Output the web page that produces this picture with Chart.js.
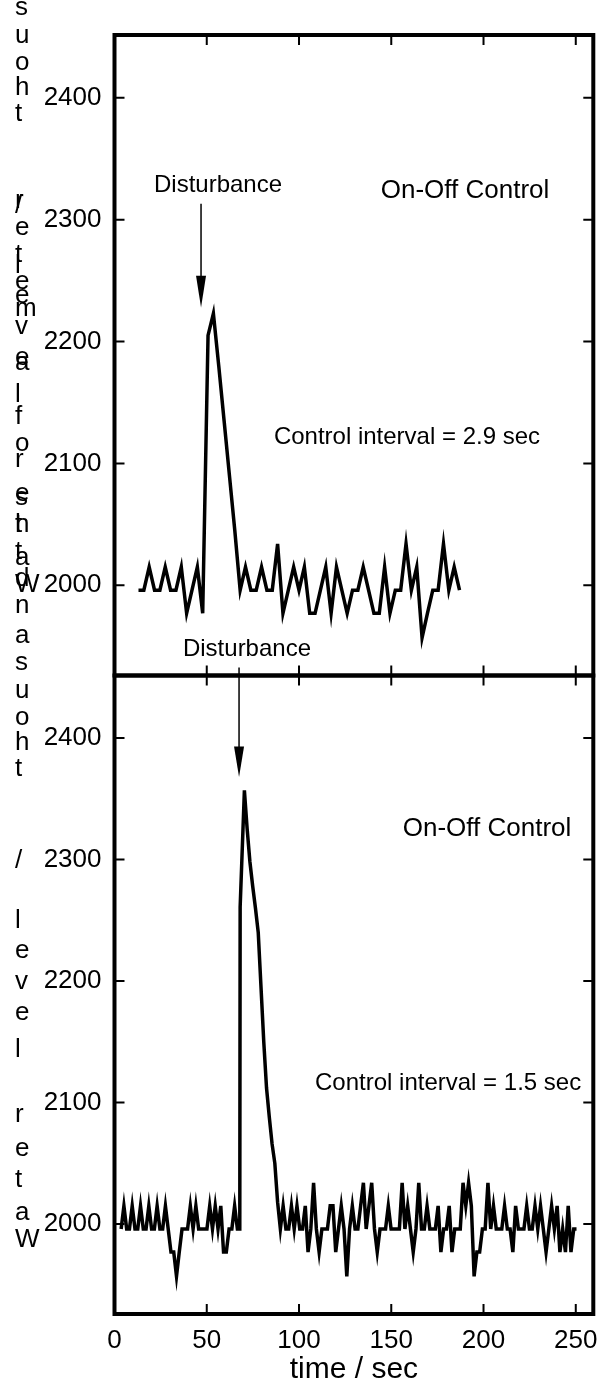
<!DOCTYPE html>
<html>
<head>
<meta charset="utf-8">
<script src="https://cdn.jsdelivr.net/npm/chart.js@4.4.1/dist/chart.umd.min.js"></script>
<style>
  html, body { margin: 0; padding: 0; background: #ffffff; }
  #wrap { position: relative; width: 597px; height: 1389px; overflow: hidden; background: #ffffff; }
  canvas { position: absolute; left: 0; top: 0; }
</style>
</head>
<body>
<div id="wrap">
  <canvas id="c1" width="597" height="680" style="width:597px;height:680px"></canvas>
  <canvas id="c2" width="597" height="1389" style="width:597px;height:1389px"></canvas>
</div>
<script>
// ---------------- data ----------------
const xTicks = [0, 50, 100, 150, 200, 250];
const yTicks = [2000, 2100, 2200, 2300, 2400];

// Upper panel: control interval 2.9 s
const topTime = [13.0, 15.9, 18.8, 21.7, 24.6, 27.5, 30.4, 33.3, 36.2, 39.1,
  42.0, 44.9, 47.8, 50.7, 53.6, 56.5, 59.4, 62.3, 65.2, 68.1,
  71.0, 73.9, 76.8, 79.7, 82.6, 85.5, 88.4, 91.3, 94.2, 97.1,
  100.0, 102.9, 105.8, 108.7, 111.6, 114.5, 117.4, 120.3, 123.2, 126.1,
  129.0, 131.9, 134.8, 137.7, 140.6, 143.5, 146.4, 149.3, 152.2, 155.1,
  158.0, 160.9, 163.8, 166.7, 169.6, 172.5, 175.4, 178.3, 181.2, 184.1, 187.0];
const topLevel = [1996, 1996, 2015, 1996, 1996, 2015, 1996, 1996, 2015, 1977,
  1996, 2015, 1977, 2205, 2223, 2180, 2135, 2090, 2045, 1996,
  2015, 1996, 1996, 2015, 1996, 1996, 2034, 1977, 1996, 2015,
  1996, 2015, 1977, 1977, 1996, 2015, 1977, 2015, 1996, 1977,
  1996, 1996, 2015, 1996, 1977, 1977, 2015, 1977, 1996, 1996,
  2034, 1996, 2015, 1957, 1977, 1996, 1996, 2034, 1996, 2015, 1996];

// Lower panel: control interval 1.5 s
const bottomTime = [3.6, 5.1, 6.6, 8.1, 9.6, 11.1, 12.6, 14.1, 15.6, 17.1,
  18.6, 20.1, 21.6, 23.1, 24.6, 26.1, 27.6, 29.1, 30.6, 32.1,
  33.6, 35.1, 36.6, 38.1, 39.6, 41.1, 42.6, 44.1, 45.6, 47.1,
  48.6, 50.1, 51.6, 53.1, 54.6, 56.1, 57.6, 59.1, 60.6, 62.1,
  63.6, 65.1, 66.6, 67.9, 68.1, 70.4,
  71.9, 73.4, 74.9, 76.4, 77.9, 79.4, 80.9, 82.4, 83.9, 85.4, 86.9, 88.4,
  89.9, 91.4, 92.9, 94.4, 95.9, 97.4, 98.9, 100.4, 101.9, 103.4,
  104.9, 106.4, 107.9, 109.4, 110.9, 112.4, 113.9, 115.4, 116.9, 118.4,
  119.9, 121.4, 122.9, 124.4, 125.9, 127.4, 128.9, 130.4, 131.9, 133.4,
  134.9, 136.4, 137.9, 139.4, 140.9, 142.4, 143.9, 145.4, 146.9, 148.4,
  149.9, 151.4, 152.9, 154.4, 155.9, 157.4, 158.9, 160.4, 161.9, 163.4,
  164.9, 166.4, 167.9, 169.4, 170.9, 172.4, 173.9, 175.4, 176.9, 178.4,
  179.9, 181.4, 182.9, 184.4, 185.9, 187.4, 188.9, 190.4, 191.9, 193.4,
  194.9, 196.4, 197.9, 199.4, 200.9, 202.4, 203.9, 205.4, 206.9, 208.4,
  209.9, 211.4, 212.9, 214.4, 215.9, 217.4, 218.9, 220.4, 221.9, 223.4,
  224.9, 226.4, 227.9, 229.4, 230.9, 232.4, 233.9, 235.4, 236.9, 238.4,
  239.9, 241.4, 242.9, 244.4, 245.9, 247.4, 248.9, 250.4];
const bottomLevel = [1996, 2015, 1996, 1996, 2015, 1996, 1996, 2015, 1996, 1996,
  2015, 1996, 1996, 2015, 1996, 1996, 2015, 1996, 1977, 1977,
  1957, 1977, 1996, 1996, 1996, 2015, 1996, 2015, 1996, 1996,
  1996, 1996, 2015, 1996, 2015, 1996, 2015, 1977, 1977, 1996,
  1996, 2015, 1996, 1996, 2261, 2357,
  2325, 2298, 2278, 2260, 2240, 2195, 2150, 2112, 2088, 2066, 2050, 2018,
  1996, 2015, 1996, 1996, 2015, 1996, 2015, 1996, 1996, 2015,
  1977, 1996, 2034, 1996, 1977, 1996, 1996, 1996, 2015, 2015,
  1977, 1996, 2015, 1996, 1957, 1996, 2015, 1996, 1996, 2015,
  2034, 1996, 2015, 2034, 1996, 1977, 1996, 1996, 1996, 2015,
  1996, 1996, 1996, 1996, 2034, 1996, 2015, 1996, 1977, 1996,
  2034, 1996, 1996, 2015, 1996, 1996, 1996, 2015, 1977, 1996,
  1996, 2015, 1977, 1996, 1996, 1996, 2034, 2015, 2034, 2015,
  1957, 1977, 1977, 1996, 1996, 2034, 1996, 2015, 1996, 1996,
  1996, 2015, 1996, 1996, 1977, 2015, 1996, 1996, 1996, 2015,
  1996, 1996, 2015, 1996, 2015, 1996, 1977, 1996, 2015, 1996,
  2015, 1977, 1996, 1977, 2015, 1977, 1996, 1996];

// ---------------- styling / layout ----------------
const FONT = "'Liberation Sans', Arial, Helvetica, sans-serif";
const X_MIN = 0, X_MAX = 259.5, Y_MIN = 1926, Y_MAX = 2451.5;
Chart.defaults.font.family = FONT;
Chart.defaults.color = '#000';

const yTitle = 'Water level / thousandths of a meter';
const yTitleStep = [0, 27, 60, 91, 125, 157, 190, 227, 258, 289, 319, 349, 379, 425,
  471, 497, 522, 549, 577, 604, 634, 661, 688, 715, 742, 769, 796, 823, 850, 877,
  904, 931, 958, 985, 1012, 1039];

function decor(notes) {
  return {
    id: 'decor',
    afterDatasetsDraw(chart) {
      const { ctx, chartArea: a, scales: { x, y } } = chart;
      ctx.save();
      ctx.strokeStyle = '#000';
      ctx.fillStyle = '#000';
      // inward tick marks on all four sides
      const L = 10;
      ctx.lineWidth = 2;
      ctx.beginPath();
      xTicks.forEach(v => {
        const px = x.getPixelForValue(v);
        ctx.moveTo(px, a.bottom); ctx.lineTo(px, a.bottom - L);
        ctx.moveTo(px, a.top); ctx.lineTo(px, a.top + L);
      });
      yTicks.forEach(v => {
        const py = y.getPixelForValue(v);
        ctx.moveTo(a.left, py); ctx.lineTo(a.left + L, py);
        ctx.moveTo(a.right, py); ctx.lineTo(a.right - L, py);
      });
      ctx.stroke();
      // frame
      ctx.lineWidth = 4;
      ctx.strokeRect(a.left, a.top, a.right - a.left, a.bottom - a.top);
      // arrow
      const ar = notes.arrow;
      const ax = x.getPixelForValue(ar.x);
      const y0 = y.getPixelForValue(ar.from);
      const yh = y.getPixelForValue(ar.head);
      const yt = y.getPixelForValue(ar.to);
      ctx.lineWidth = 1.5;
      ctx.beginPath(); ctx.moveTo(ax, y0); ctx.lineTo(ax, yh + 2); ctx.stroke();
      ctx.beginPath();
      ctx.moveTo(ax - 5, yh); ctx.lineTo(ax + 5, yh); ctx.lineTo(ax, yt); ctx.closePath();
      ctx.fill();
      // texts
      ctx.textAlign = 'center';
      ctx.textBaseline = 'middle';
      notes.texts.forEach(t => {
        ctx.font = t.size + 'px ' + FONT;
        ctx.fillText(t.text, x.getPixelForValue(t.x), y.getPixelForValue(t.y));
      });
      // stacked y titles
      if (notes.yTitleBases) {
        ctx.font = '26px ' + FONT;
        ctx.textAlign = 'left';
        ctx.textBaseline = 'alphabetic';
        notes.yTitleBases.forEach(base => {
          for (let i = 0; i < yTitle.length; i++) {
            const ch = yTitle[i];
            if (ch !== ' ') ctx.fillText(ch, 15, base - yTitleStep[i]);
          }
        });
      }
      ctx.restore();
    }
  };
}

function lineDataset(times, levels) {
  return {
    data: times.map((t, i) => ({ x: t, y: levels[i] })),
    borderColor: '#000',
    borderWidth: 3.5,
    pointRadius: 0,
    tension: 0,
    fill: false,
    borderJoinStyle: 'miter',
    borderCapStyle: 'butt'
  };
}

function zeroPad(s) { s.paddingLeft = 0; s.paddingRight = 0; s.paddingTop = 0; s.paddingBottom = 0; }

function yScale() {
  return {
    type: 'linear', min: Y_MIN, max: Y_MAX,
    afterBuildTicks: s => { s.ticks = yTicks.map(v => ({ value: v })); },
    afterFit: s => { s.width = 114.5; zeroPad(s); },
    grid: { display: false, drawTicks: false },
    border: { display: false },
    ticks: { font: { size: 26 }, color: '#000', padding: 13, callback: v => String(v) }
  };
}

// upper panel
new Chart(document.getElementById('c1'), {
  type: 'line',
  data: { datasets: [lineDataset(topTime, topLevel)] },
  options: {
    responsive: false, animation: false, events: [],
    layout: { padding: { left: 0, right: 3.7, top: 35, bottom: 4.5 } },
    plugins: { legend: { display: false }, tooltip: { enabled: false } },
    scales: {
      x: { type: 'linear', min: X_MIN, max: X_MAX, display: false,
           grid: { drawTicks: false },
           afterBuildTicks: s => { s.ticks = xTicks.map(v => ({ value: v })); },
           afterFit: s => { s.height = 0; zeroPad(s); } },
      y: yScale()
    }
  },
  plugins: [decor({
    arrow: { x: 46.9, from: 2313, head: 2254, to: 2228 },
    texts: [
      { text: 'Disturbance', x: 56.1, y: 2328, size: 24 },
      { text: 'On-Off Control', x: 190, y: 2324, size: 26 },
      { text: 'Control interval = 2.9 sec', x: 158.5, y: 2121, size: 24 }
    ]
  })]
});

// lower panel
new Chart(document.getElementById('c2'), {
  type: 'line',
  data: { datasets: [lineDataset(bottomTime, bottomLevel)] },
  options: {
    responsive: false, animation: false, events: [],
    layout: { padding: { left: 0, right: 3.7, top: 675.5, bottom: 0 } },
    plugins: { legend: { display: false }, tooltip: { enabled: false } },
    scales: {
      x: { type: 'linear', min: X_MIN, max: X_MAX,
           afterBuildTicks: s => { s.ticks = xTicks.map(v => ({ value: v })); },
           afterFit: s => { s.height = 75; zeroPad(s); },
           grid: { display: false, drawTicks: false },
           border: { display: false },
           ticks: { font: { size: 26 }, color: '#000', padding: 11, maxRotation: 0, autoSkip: false,
                    callback: v => String(v) },
           title: { display: true, text: 'time / sec', font: { size: 30 }, color: '#000',
                    padding: { top: 0, bottom: 1 } } },
      y: yScale()
    }
  },
  plugins: [decor({
    arrow: { x: 67.5, from: 2458, head: 2393, to: 2368 },
    texts: [
      { text: 'Disturbance', x: 71.8, y: 2473, size: 24 },
      { text: 'On-Off Control', x: 201.9, y: 2325, size: 26 },
      { text: 'Control interval = 1.5 sec', x: 180.8, y: 2116, size: 24 }
    ],
    yTitleBases: [1247, 592]
  })]
});
</script>
</body>
</html>
